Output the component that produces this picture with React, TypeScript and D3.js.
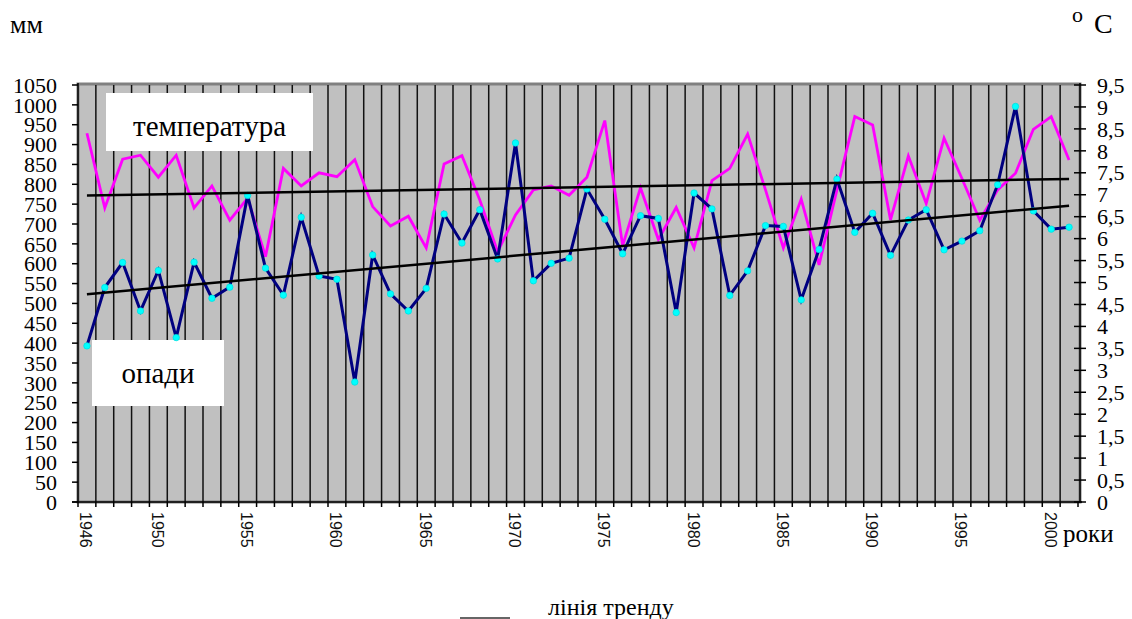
import React from "react";
import * as d3 from "d3";

const years: number[] = [
  1946, 1947, 1948, 1949, 1950, 1951, 1952, 1953, 1954, 1955, 1956, 1957, 1958, 1959,
  1960, 1961, 1962, 1963, 1964, 1965, 1966, 1967, 1968, 1969, 1970, 1971, 1972, 1973,
  1974, 1975, 1976, 1977, 1978, 1979, 1980, 1981, 1982, 1983, 1984, 1985, 1986, 1987,
  1988, 1989, 1990, 1991, 1992, 1993, 1994, 1995, 1996, 1997, 1998, 1999, 2000, 2001,
];

// precipitation, mm (left axis)
const precipitation: number[] = [
  393, 540, 603, 481, 583, 414, 604, 513, 541, 772, 589, 521, 717, 569,
  561, 302, 622, 524, 481, 538, 725, 652, 736, 612, 904, 557, 601, 614,
  788, 712, 625, 721, 714, 477, 778, 738, 520, 582, 696, 694, 509, 636,
  813, 679, 727, 621, 710, 736, 635, 657, 683, 799, 996, 733, 687, 692,
];

// temperature, °C (right axis)
const temperature: number[] = [
  8.4, 6.7, 7.81, 7.9, 7.4, 7.9, 6.7, 7.2, 6.42, 6.92, 5.59, 7.6, 7.2, 7.5,
  7.41, 7.8, 6.73, 6.29, 6.51, 5.79, 7.7, 7.89, 6.88, 5.7, 6.54, 7.11, 7.2, 6.99,
  7.4, 8.69, 5.84, 7.16, 5.98, 6.71, 5.79, 7.32, 7.6, 8.38, 7.11, 5.79, 6.9, 5.4,
  7.11, 8.78, 8.59, 6.43, 7.88, 6.8, 8.29, 7.37, 6.42, 7.11, 7.49, 8.49, 8.78, 7.79,
];

// trend line end values (first year, last year)
const precipTrend: number[] = [523, 746];
const tempTrend: number[] = [6.98, 7.36];

const xLabelYears: number[] = [1946, 1950, 1955, 1960, 1965, 1970, 1975, 1980, 1985, 1990, 1995, 2000];
const leftTicks: number[] = d3.range(0, 1051, 50);
const rightTicks: number[] = d3.range(0, 9.51, 0.5);

export default function App() {
  const W = 1132;
  const H = 619;
  const left = 78;
  const right = 1080;
  const top = 85;
  const bottom = 502;

  const x = d3.scaleBand<number>().domain(years).range([left, left + 1000]).padding(0);
  const cx = (yr: number) => (x(yr) as number) + x.bandwidth() / 2;
  const yL = d3.scaleLinear().domain([0, 1050]).range([bottom, top]);
  const yR = d3.scaleLinear().domain([0, 9.5]).range([bottom, top]);

  const precipLine = d3
    .line<number>()
    .x((_, i) => cx(years[i]))
    .y((d) => yL(d));
  const tempLine = d3
    .line<number>()
    .x((_, i) => cx(years[i]))
    .y((d) => yR(d));

  const first = years[0];
  const last = years[years.length - 1];
  const boundaries = years.slice(1).map((yr) => x(yr) as number);
  const allBoundaries = [left, ...boundaries, left + 1000];

  const serif = "'Liberation Serif', 'Times New Roman', serif";
  const sans = "'Liberation Sans', Arial, sans-serif";

  return (
    <svg
      width={W}
      height={H}
      style={{ position: "absolute", left: 0, top: 0, background: "#fff" }}
    >
      <rect x={0} y={0} width={W} height={H} fill="#fff" />
      {/* plot area */}
      <rect
        x={left}
        y={top - 1}
        width={right - left}
        height={bottom - top + 1}
        fill="#c0c0c0"
        stroke="#808080"
        strokeWidth={3}
      />
      {/* vertical gridlines */}
      {boundaries.map((bx, i) => (
        <line key={"g" + i} x1={bx} x2={bx} y1={top} y2={bottom} stroke="#111" strokeWidth={1.5} />
      ))}

      {/* text boxes */}
      <rect x={106} y={93} width={207} height={58} fill="#fff" />
      <text x={209.5} y={126} fontFamily={serif} fontSize={29} textAnchor="middle" dominantBaseline="central" fill="#000">
        температура
      </text>
      <rect x={92} y={340} width={132} height={66} fill="#fff" />
      <text x={158} y={373} fontFamily={serif} fontSize={29} textAnchor="middle" dominantBaseline="central" fill="#000">
        опади
      </text>

      {/* series */}
      <path d={tempLine(temperature) || ""} fill="none" stroke="#ff00ff" strokeWidth={2.8} strokeLinejoin="miter" />
      <path d={precipLine(precipitation) || ""} fill="none" stroke="#000080" strokeWidth={3} strokeLinejoin="miter" />
      {precipitation.map((v, i) => (
        <circle key={"m" + i} cx={cx(years[i])} cy={yL(v)} r={3.2} fill="#00ffff" stroke="#00e0e0" strokeWidth={0.8} />
      ))}

      {/* trend lines */}
      <line x1={cx(first)} x2={cx(last)} y1={yL(precipTrend[0])} y2={yL(precipTrend[1])} stroke="#000" strokeWidth={2.5} />
      <line x1={cx(first)} x2={cx(last)} y1={yR(tempTrend[0])} y2={yR(tempTrend[1])} stroke="#000" strokeWidth={2.5} />

      {/* left axis */}
      <line x1={left} x2={left} y1={top - 2} y2={bottom} stroke="#000" strokeWidth={1.5} />
      {leftTicks.map((t) => (
        <g key={"l" + t}>
          <line x1={left - 6} x2={left} y1={yL(t)} y2={yL(t)} stroke="#000" strokeWidth={1.5} />
          <text x={57} y={yL(t)} dy="0.35em" textAnchor="end" fontFamily={serif} fontSize={22} fill="#000">
            {t}
          </text>
        </g>
      ))}

      {/* right axis */}
      <line x1={right} x2={right} y1={top - 2} y2={bottom} stroke="#000" strokeWidth={1.5} />
      {rightTicks.map((t) => (
        <g key={"r" + t}>
          <line x1={right - 6} x2={right + 6} y1={yR(t)} y2={yR(t)} stroke="#000" strokeWidth={1.5} />
          <text x={1097} y={yR(t)} dy="0.35em" textAnchor="start" fontFamily={serif} fontSize={22} fill="#000">
            {String(Math.round(t * 10) / 10).replace(".", ",")}
          </text>
        </g>
      ))}

      {/* bottom axis */}
      <line x1={left - 6} x2={right + 2} y1={bottom} y2={bottom} stroke="#000" strokeWidth={1.5} />
      {allBoundaries.map((bx, i) => (
        <line key={"t" + i} x1={bx} x2={bx} y1={bottom} y2={bottom + 5} stroke="#000" strokeWidth={1.5} />
      ))}
      {xLabelYears.map((yr) => (
        <text
          key={"x" + yr}
          transform={`translate(${cx(yr) - 6.5},${512}) rotate(90)`}
          fontFamily={sans}
          fontSize={16}
          fill="#111"
          textAnchor="start"
        >
          {yr}
        </text>
      ))}

      {/* axis titles */}
      <text x={10} y={33} fontFamily={serif} fontSize={26} fill="#000">мм</text>
      <text x={1072} y={22} fontFamily={serif} fontSize={22} fill="#000">o</text>
      <text x={1094} y={33} fontFamily={serif} fontSize={28} fill="#000">C</text>
      <text x={1063} y={542} fontFamily={serif} fontSize={25} fill="#000">роки</text>

      {/* legend */}
      <line x1={460} x2={510} y1={618} y2={618} stroke="#333" strokeWidth={1.5} />
      <text x={548} y={615} fontFamily={serif} fontSize={24} fill="#000">лінія тренду</text>
    </svg>
  );
}
